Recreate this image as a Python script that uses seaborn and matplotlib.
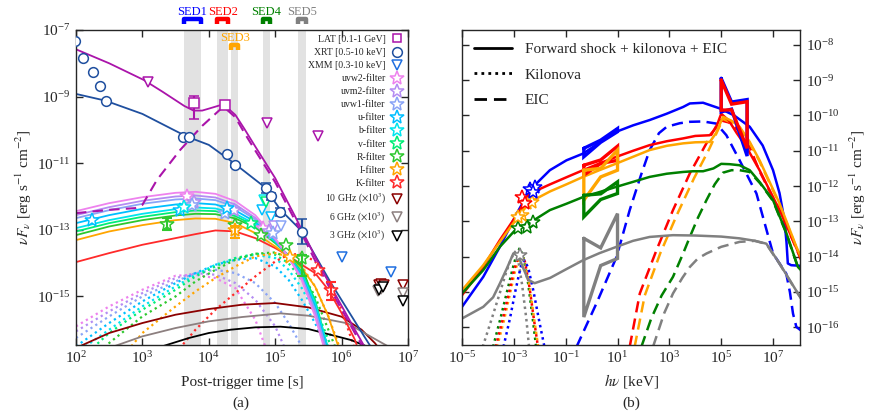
import numpy as np
import matplotlib
matplotlib.use('Agg')
import matplotlib.pyplot as plt
import matplotlib.transforms as mtransforms
from matplotlib.lines import Line2D
from matplotlib.ticker import FixedLocator, NullLocator, LogFormatterMathtext
import seaborn as sns

# ---------------- data (log10 values) ----------------
# panel (a): light curves, x = log10(t / s), y = log10(nuFnu)
SED_BANDS = [(3.63, 3.88), (4.13, 4.29), (4.34, 4.44), (4.81, 4.92), (5.35, 5.46)]
SED_NAMES = ['SED1', 'SED2', 'SED3', 'SED4', 'SED5']
SED_COLORS = ['#0000ff', '#ff0000', '#ffa500', '#008000', '#808080']

xrt_t = [2.0, 2.44, 3.0, 3.5, 3.67, 4.0, 4.38, 4.83, 5.08, 5.38, 5.84, 6.34, 6.5]
xrt_f = [-8.92, -9.12, -9.52, -10.03, -10.2, -10.45, -11.0, -11.7, -12.4, -13.0, -14.6, -16.2, -16.7]
lat_t = [2.0, 2.5, 3.02, 3.3, 3.63, 3.77, 3.9, 4.02, 4.22, 4.4, 4.53, 4.7, 5.0, 5.3, 5.6, 5.84, 6.2, 6.4]
lat_f = [-7.58, -8.0, -8.5, -8.85, -9.28, -9.42, -9.42, -9.35, -9.23, -9.55, -9.95, -10.5, -11.45,
         -12.6, -13.8, -14.71, -16.0, -16.7]
lat_eic_t = [2.0, 2.5, 2.89, 3.0, 3.22, 3.57, 3.9, 4.22, 4.4, 4.53, 4.7, 5.0, 5.3, 5.6, 5.84, 6.2, 6.4]
lat_eic_f = [-12.5, -12.4, -12.35, -12.25, -11.5, -10.6, -9.88, -9.3, -9.62, -10.07, -10.62, -11.57,
             -12.72, -13.92, -14.82, -16.1, -16.8]

T_OPT = [2.0, 2.5, 3.0, 3.5, 3.8, 4.1, 4.4, 4.7, 5.0, 5.2, 5.4, 5.6, 5.8, 6.0, 6.2, 6.4]
opt_uvw2 = [-12.44, -12.20, -12.02, -11.89, -11.86, -11.92, -12.14, -12.56, -13.25, -13.82, -14.51, -15.6, -17.0]
opt_uvm2 = [-12.56, -12.32, -12.13, -12.00, -11.97, -12.03, -12.24, -12.64, -13.28, -13.82, -14.47, -15.5, -16.9]
opt_uvw1 = [-12.65, -12.41, -12.22, -12.09, -12.06, -12.11, -12.31, -12.69, -13.30, -13.82, -14.43, -15.4, -16.8]
opt_u = [-12.80, -12.56, -12.37, -12.24, -12.20, -12.24, -12.42, -12.76, -13.32, -13.80, -14.38, -15.3, -16.7]
opt_b = [-12.95, -12.71, -12.52, -12.38, -12.33, -12.36, -12.52, -12.83, -13.35, -13.80, -14.33, -15.2, -16.6]
opt_v = [-13.05, -12.80, -12.61, -12.47, -12.42, -12.44, -12.59, -12.88, -13.37, -13.78, -14.25, -15.1, -16.6]
opt_R = [-13.16, -12.90, -12.71, -12.57, -12.52, -12.53, -12.66, -12.93, -13.40, -13.76, -14.10, -15.2, -16.7]
opt_I = [-13.31, -13.05, -12.86, -12.71, -12.66, -12.67, -12.80, -13.10, -13.50, -13.80, -14.15, -14.70,
         -15.6, -16.8]
opt_K = [-13.97, -13.70, -13.45, -13.25, -13.13, -13.02, -13.05, -13.25, -13.55, -13.78, -14.05, -14.30,
         -14.80, -15.50, -16.30, -17.5]

kn_uvw2_t = [2.0, 2.5, 3.0, 3.5, 3.8, 4.1, 4.4, 4.7, 4.85, 5.0]
kn_uvw2 = [-15.9, -15.3, -14.8, -14.38, -14.35, -14.45, -14.75, -15.7, -16.5, -17.4]
kn_uvm2_t = [2.0, 2.5, 3.0, 3.5, 3.8, 4.1, 4.4, 4.7, 5.0, 5.2]
kn_uvm2 = [-16.05, -15.45, -14.9, -14.45, -14.3, -14.35, -14.6, -15.1, -15.9, -16.8]
kn_uvw1_t = [2.0, 2.5, 3.0, 3.5, 3.8, 4.1, 4.4, 4.7, 5.0, 5.2, 5.4, 5.6]
kn_uvw1 = [-16.25, -15.6, -15.0, -14.55, -14.3, -14.2, -14.3, -14.6, -15.2, -15.8, -16.5, -17.3]
kn_u_t = [2.0, 2.5, 3.0, 3.5, 3.8, 4.1, 4.4, 4.7, 5.0, 5.2, 5.4, 5.6, 5.8]
kn_u = [-16.5, -15.8, -15.15, -14.6, -14.3, -14.05, -13.9, -13.85, -14.1, -14.5, -15.1, -15.8, -16.6]
kn_b = [-16.7, -16.0, -15.3, -14.7, -14.35, -14.05, -13.85, -13.75, -13.85, -14.2, -14.75, -15.5, -16.5]
kn_v_t = [2.0, 2.5, 3.0, 3.5, 3.8, 4.1, 4.4, 4.7, 5.0, 5.2, 5.4, 5.6, 5.8, 6.0]
kn_v = [-17.0, -16.1, -15.4, -14.8, -14.4, -14.1, -13.85, -13.72, -13.75, -14.0, -14.5, -15.3, -16.3, -17.3]
kn_R = [-17.4, -16.4, -15.6, -15.0, -14.55, -14.2, -13.9, -13.72, -13.68, -13.85, -14.3, -15.0, -16.0, -17.0]
kn_I_t = [2.5, 3.0, 3.5, 3.8, 4.1, 4.4, 4.7, 5.0, 5.2, 5.4, 5.6, 5.8, 6.0]
kn_I = [-17.3, -16.1, -15.3, -14.85, -14.45, -14.1, -13.8, -13.7, -13.8, -14.1, -14.7, -15.6, -16.7]
kn_K_t = [3.5, 3.8, 4.1, 4.4, 4.7, 5.0, 5.2, 5.4, 5.6, 5.8, 6.0, 6.2]
kn_K = [-16.7, -16.0, -15.4, -14.9, -14.4, -13.95, -13.75, -13.72, -13.95, -14.5, -15.4, -16.6]

r10_t = [2.0, 2.5, 3.0, 3.5, 4.0, 4.5, 5.0, 5.5, 6.0, 6.3, 6.5, 6.7]
r10_f = [-16.55, -16.1, -15.8, -15.55, -15.38, -15.25, -15.2, -15.33, -15.61, -16.0, -16.4, -16.9]
r6_t = [2.5, 3.0, 3.5, 4.0, 4.5, 5.08, 5.5, 6.09, 6.44, 6.7, 7.0]
r6_f = [-16.55, -16.2, -15.95, -15.75, -15.62, -15.51, -15.58, -15.81, -16.21, -16.5, -16.9]
r3_t = [3.3, 3.7, 4.0, 4.33, 4.7, 5.08, 5.5, 6.14, 6.5, 6.8]
r3_f = [-16.5, -16.25, -16.1, -16.0, -15.93, -15.91, -15.98, -16.31, -16.6, -16.9]

xrt_pt_t = [1.99, 2.10, 2.25, 2.36, 2.45, 3.61, 3.70, 4.28, 4.40, 4.855, 4.94, 5.07, 5.41]
xrt_pt_f = [-7.32, -7.83, -8.27, -8.67, -9.12, -10.22, -10.20, -10.73, -11.05, -11.75, -12.0, -12.46, -13.06]
xrt_pt_e = [0, 0, 0, 0, 0, 0, 0, 0, 0.05, 0.15, 0.1, 0.12, 0.38]
lat_pt_t = [3.77, 4.24]
lat_pt_f = [-9.18, -9.25]
lat_pt_lo = [0.5, 0.07]
lat_pt_hi = [0.2, 0.05]
lat_ul_t = [3.08, 4.88, 5.64]
lat_ul_f = [-8.57, -9.78, -10.18]
xmm_ul_t = [6.01, 6.74]
xmm_ul_f = [-13.81, -14.26]

star_t = {'uvw2': [3.67, 4.81], 'uvm2': [3.77, 4.38, 4.90], 'uvw1': [3.75, 4.25, 4.96],
          'u': [2.237, 3.57, 4.28], 'b': [3.62], 'v': [4.63], 'R': [3.37, 4.40, 4.78, 5.16, 5.41],
          'I': [4.40, 5.23], 'K': [5.64, 5.84]}
star_f = {'uvw2': [-12.0, -12.95], 'uvm2': [-12.16, -12.41, -13.04], 'uvw1': [-12.26, -12.5, -13.1],
          'u': [-12.71, -12.41, -12.35], 'b': [-12.32], 'v': [-12.8], 'R': [-12.83, -12.86, -13.16, -13.46, -13.86],
          'I': [-13.0, -13.81], 'K': [-14.2, -14.8]}
star_err = [('R', 3.37, -12.83, 0.17, 0.18), ('I', 4.40, -13.0, 0.26, 0.1),
            ('R', 5.41, -13.86, 0.54, 0.1), ('K', 5.84, -14.8, 0.3, 0.24)]
opt_ul = [('u', 4.80, -12.41), ('u', 4.93, -12.62), ('b', 4.83, -12.1), ('v', 4.86, -12.18),
          ('uvm2', 4.98, -12.9), ('uvw1', 5.08, -12.9)]
radio_ul_t = {'10': [6.56, 6.60, 6.64, 6.92], '6': [6.55, 6.59, 6.92], '3': [6.57, 6.62, 6.92]}
radio_ul_f = {'10': [-14.65, -14.62, -14.65, -14.65], '6': [-14.85, -14.78, -14.9], '3': [-14.8, -14.72, -15.15]}

# panel (b): SEDs, x = log10(h nu / keV), y = log10(nuFnu)
s1_e = [-5.0, -4.18, -3.54, -2.89, -2.38, -1.61, -0.97, -0.33, 0.3, 0.96, 1.6, 2.24, 2.9, 3.53, 3.79, 4.3,
        4.94, 5.5, 6.1, 6.6, 7.0, 7.25, 7.44, 7.52, 7.57, 7.7, 8.1]
s1_f = [-15.42, -14.57, -13.72, -12.78, -12.11, -11.55, -11.27, -11.08, -10.77, -10.46, -10.28, -10.13, -9.95,
        -9.76, -9.66, -9.64, -9.8, -10.0, -10.32, -10.85, -11.55, -12.2, -12.97, -13.6, -14.19, -14.24, -14.26]
s2_e = [-5.0, -4.18, -3.54, -2.89, -2.38, -1.6, -0.97, -0.33, 0.3, 0.96, 1.6, 2.24, 2.9, 3.53, 4.0, 4.56,
        4.8, 5.0, 5.3, 5.6, 5.97, 6.48, 7.25, 7.77, 8.1]
s2_f = [-15.09, -14.29, -13.53, -12.82, -12.21, -11.95, -11.75, -11.55, -11.36, -11.17, -11.0, -10.84, -10.73,
        -10.65, -10.58, -10.56, -10.35, -9.95, -10.15, -10.5, -10.89, -11.55, -12.68, -13.53, -14.1]
s3_e = [-5.0, -4.18, -3.54, -2.89, -2.38, -1.6, -0.97, -0.33, 0.3, 0.96, 1.6, 2.24, 2.9, 3.53, 4.0, 4.56,
        4.8, 5.07, 5.4, 5.71, 6.1, 6.48, 7.25, 7.9, 8.1]
s3_f = [-14.95, -14.24, -13.58, -12.92, -12.45, -12.15, -11.95, -11.74, -11.55, -11.36, -11.17, -10.98, -10.86,
        -10.79, -10.76, -10.75, -10.5, -10.04, -10.15, -10.32, -10.75, -11.27, -12.49, -13.72, -14.05]
s4_e = [-5.0, -4.18, -3.54, -2.89, -2.3, -1.61, -0.97, -0.33, 0.3, 0.96, 1.6, 2.24, 2.9, 3.53, 3.91, 4.3,
        4.7, 5.0, 5.33, 5.71, 6.1, 6.5, 7.0, 7.5, 7.96, 8.1]
s4_f = [-15.04, -14.38, -13.72, -13.2, -13.0, -12.68, -12.5, -12.31, -12.17, -12.02, -11.88, -11.74, -11.65,
        -11.60, -11.58, -11.58, -11.5, -11.37, -11.38, -11.41, -11.55, -11.9, -12.40, -13.3, -14.29, -14.4]
s5_e = [-5.0, -4.18, -3.8, -3.54, -3.25, -3.02, -2.85, -2.65, -2.45, -2.2, -1.6, -0.97, -0.33, 0.3, 0.96,
        1.6, 2.24, 3.14, 4.0, 5.0, 5.71, 6.3, 6.74, 7.25, 7.96, 8.1]
s5_f = [-15.75, -15.42, -15.15, -14.76, -14.3, -13.91, -13.95, -14.3, -14.65, -14.75, -14.6, -14.35, -14.10,
        -13.9, -13.72, -13.55, -13.44, -13.39, -13.40, -13.43, -13.48, -13.55, -13.63, -14.19, -15.04, -15.2]

eic1_e = [-0.58, 0.2, 0.96, 1.47, 1.9, 2.24, 2.6, 2.9, 3.4, 3.79, 4.3, 4.81, 5.2, 5.71, 6.36, 7.0, 7.51,
          7.65, 7.77, 7.9, 8.1]
eic1_f = [-16.55, -15.3, -14.01, -12.68, -11.7, -10.98, -10.5, -10.32, -10.22, -10.18, -10.17, -10.23, -10.56,
          -11.27, -12.21, -13.91, -14.48, -15.0, -15.61, -15.99, -16.1]
eic2_e = [1.47, 1.86, 2.5, 3.14, 3.79, 4.43, 4.94, 5.3, 5.71, 6.1, 6.48, 7.25, 7.77, 8.1]
eic2_f = [-16.55, -15.04, -13.82, -12.68, -11.64, -10.79, -10.13, -10.2, -10.45, -10.9, -11.58, -12.7,
          -13.55, -14.12]
eic3_e = [1.66, 2.05, 2.65, 3.3, 3.95, 4.55, 5.07, 5.4, 5.71, 6.1, 6.48, 7.25, 7.9, 8.1]
eic3_f = [-16.55, -15.1, -13.9, -12.8, -11.78, -10.93, -10.1, -10.2, -10.35, -10.78, -11.3, -12.52,
          -13.75, -14.07]
eic4_e = [1.92, 2.3, 2.7, 3.14, 3.53, 3.79, 4.1, 4.43, 4.75, 5.07, 5.4, 5.71, 6.1, 6.5, 7.0, 7.5, 7.96, 8.1]
eic4_f = [-16.55, -15.75, -15.1, -14.57, -13.91, -13.44, -12.9, -12.40, -11.95, -11.62, -11.55, -11.55,
          -11.6, -11.92, -12.42, -13.32, -14.3, -14.42]
eic5_e = [2.37, 2.8, 3.14, 3.5, 3.79, 4.1, 4.43, 5.0, 5.71, 6.3, 6.74, 7.25, 7.96, 8.1]
eic5_f = [-16.55, -15.6, -15.04, -14.6, -14.29, -14.05, -13.91, -13.72, -13.58, -13.55, -13.64, -14.2,
          -15.05, -15.2]

knb1_e = [-3.4, -3.15, -2.95, -2.8, -2.7, -2.6, -2.45, -2.25, -2.0, -1.75]
knb1_f = [-16.55, -15.75, -15.0, -14.5, -14.2, -14.1, -14.3, -14.95, -15.9, -16.8]
knb2_e = [-3.7, -3.42, -3.18, -3.0, -2.85, -2.72, -2.57, -2.4, -2.22, -2.02]
knb2_f = [-16.55, -15.75, -15.0, -14.4, -14.05, -13.88, -14.15, -14.85, -15.8, -16.8]
knb3_e = [-3.65, -3.38, -3.15, -2.97, -2.83, -2.70, -2.55, -2.38, -2.2, -2.0]
knb3_f = [-16.55, -15.8, -15.05, -14.45, -14.1, -13.93, -14.2, -14.9, -15.85, -16.85]
knb4_e = [-3.8, -3.5, -3.25, -3.05, -2.9, -2.77, -2.62, -2.45, -2.28, -2.1]
knb4_f = [-16.55, -15.7, -14.95, -14.35, -13.95, -13.75, -14.05, -14.75, -15.7, -16.8]
knb5_e = [-4.2, -3.85, -3.55, -3.3, -3.1, -2.96, -2.82, -2.68, -2.52, -2.38]
knb5_f = [-16.55, -15.75, -15.05, -14.45, -14.05, -13.86, -14.15, -14.8, -15.75, -16.8]

# bowties: colour, E_left, E_waist, E_right,
#          (top_left, top_waist, top_right), (bottom_left, bottom_waist, bottom_right)
BOWTIES = [('#0000ff', -0.3, 0.35, 1.0, (-10.93, -10.70, -10.37), (-11.17, -10.76, -10.46)),
           ('#ff0000', -0.3, 0.35, 1.0, (-11.41, -11.26, -10.87), (-11.69, -11.36, -11.27)),
           ('#ffa500', -0.3, 0.35, 1.0, (-11.55, -11.50, -10.98), (-12.40, -11.74, -11.55)),
           ('#008000', -0.3, 0.35, 1.0, (-12.26, -12.22, -11.88), (-12.87, -12.38, -12.21)),
           ('#808080', -0.3, 0.35, 1.0, (-13.48, -13.75, -12.78), (-15.71, -14.25, -14.05)),
           ('#0000ff', 5.0, 5.4, 6.0, (-8.95, -9.62, -9.55), (-9.9, -9.82, -11.15)),
           ('#ff0000', 5.0, 5.4, 6.0, (-9.0, -9.68, -9.61), (-9.85, -9.84, -10.93))]

sed_star_e = {'#0000ff': [-2.38, -2.19, -2.28], '#ff0000': [-2.70, -2.57],
              '#ffa500': [-2.51, -2.31, -2.70, -2.83], '#008000': [-2.83, -2.51, -2.25], '#808080': [-2.76]}
sed_star_f = {'#0000ff': [-12.07, -12.02, -12.17], '#ff0000': [-12.31, -12.49],
              '#ffa500': [-12.49, -12.45, -12.82, -12.87], '#008000': [-13.2, -13.16, -13.01], '#808080': [-13.96]}

# ---------------- style ----------------
sns.set_theme(style='ticks')
plt.rcParams['font.family'] = ['Liberation Serif', 'DejaVu Serif']
plt.rcParams['mathtext.fontset'] = 'stix'
plt.rcParams['axes.linewidth'] = 1.0

FILTERS = ['uvw2', 'uvm2', 'uvw1', 'u', 'b', 'v', 'R', 'I', 'K']
FCOL = {'uvw2': '#ee82ee', 'uvm2': '#b48cf2', 'uvw1': '#8aa4f6', 'u': '#00bfff', 'b': '#00e5ee',
        'v': '#00ee76', 'R': '#2ec82e', 'I': '#ffa500', 'K': '#ff2a2a'}
OPT = {'uvw2': opt_uvw2, 'uvm2': opt_uvm2, 'uvw1': opt_uvw1, 'u': opt_u, 'b': opt_b,
       'v': opt_v, 'R': opt_R, 'I': opt_I, 'K': opt_K}
KN = {'uvw2': (kn_uvw2_t, kn_uvw2), 'uvm2': (kn_uvm2_t, kn_uvm2), 'uvw1': (kn_uvw1_t, kn_uvw1),
      'u': (kn_u_t, kn_u), 'b': (kn_u_t, kn_b), 'v': (kn_v_t, kn_v), 'R': (kn_v_t, kn_R),
      'I': (kn_I_t, kn_I), 'K': (kn_K_t, kn_K)}
XRT_C = '#1f4f9f'
LAT_C = '#aa14aa'
XMM_C = '#1f6fe0'
RAD_C = {'10': '#8b0000', '6': '#8c7f7f', '3': '#000000'}


def P(a):
    return 10.0 ** np.asarray(a, dtype=float)


def curve(ax, x, y, color, ls='-', lw=1.3, z=2):
    sns.lineplot(x=P(x), y=P(y), ax=ax, color=color, linestyle=ls, lw=lw,
                 sort=False, estimator=None, legend=False, zorder=z)


fig = plt.figure(figsize=(8.74, 4.17), dpi=100)
W, H = 874.0, 417.0
ax1 = fig.add_axes([76 / W, 1 - 345 / H, 332 / W, 315 / H])
ax2 = fig.add_axes([462 / W, 1 - 345 / H, 338 / W, 315 / H])

# ---------------- panel (a) ----------------
ax1.set_xscale('log')
ax1.set_yscale('log')
for (a, b) in SED_BANDS:
    ax1.axvspan(10 ** a, 10 ** b, color='#e2e2e2', lw=0, zorder=0)

for f in FILTERS:
    t, v = KN[f]
    curve(ax1, t, v, FCOL[f], ls=(0, (1, 1.6)), lw=1.6, z=1.5)
curve(ax1, r10_t, r10_f, RAD_C['10'], lw=1.3)
curve(ax1, r6_t, r6_f, RAD_C['6'], lw=1.3)
curve(ax1, r3_t, r3_f, RAD_C['3'], lw=1.3)
for f in FILTERS[::-1]:
    v = OPT[f]
    curve(ax1, T_OPT[:len(v)], v, FCOL[f], lw=1.3)
curve(ax1, xrt_t, xrt_f, XRT_C, lw=1.3)
curve(ax1, lat_eic_t, lat_eic_f, LAT_C, ls=(0, (5, 3)), lw=1.5)
curve(ax1, lat_t, lat_f, LAT_C, lw=1.3)

mk = dict(ls='none', mfc='white', mew=1.1, zorder=5)
ax1.plot(P(xmm_ul_t), P(xmm_ul_f), marker='v', ms=7, mec=XMM_C, **mk)
for f, t, v in opt_ul:
    ax1.plot(P(t), P(v), marker='v', ms=7, mec=FCOL[f], **mk)
for k in ['10', '6', '3']:
    ax1.plot(P(radio_ul_t[k]), P(radio_ul_f[k]), marker='v', ms=7, mec=RAD_C[k], **mk)
ax1.plot(P(lat_ul_t), P(lat_ul_f), marker='v', ms=7, mec=LAT_C, **mk)

xe = np.array(xrt_pt_e)
yf = P(xrt_pt_f)
ax1.errorbar(P(xrt_pt_t), yf, yerr=[yf - P(np.array(xrt_pt_f) - xe), P(np.array(xrt_pt_f) + xe) - yf],
             fmt='o', ms=7, mfc='white', mec=XRT_C, mew=1.1, ecolor=XRT_C, elinewidth=1.5, capsize=3.5,
             capthick=1.5, zorder=6)
lf = P(lat_pt_f)
ax1.errorbar(P(lat_pt_t), lf, yerr=[lf - P(np.array(lat_pt_f) - np.array(lat_pt_lo)),
                                    P(np.array(lat_pt_f) + np.array(lat_pt_hi)) - lf],
             fmt='s', ms=7, mfc='white', mec=LAT_C, mew=1.1, ecolor=LAT_C, elinewidth=1.5, capsize=3.5,
             capthick=1.5, zorder=6)
for f, t, v, lo, hi in star_err:
    ax1.errorbar([10 ** t], [10 ** v], yerr=[[10 ** v - 10 ** (v - lo)], [10 ** (v + hi) - 10 ** v]],
                 fmt='none', ecolor=FCOL[f], elinewidth=1.5, capsize=3.5, capthick=1.5, zorder=6)
for f in FILTERS:
    ax1.plot(P(star_t[f]), P(star_f[f]), marker='*', ms=10, mec=FCOL[f], **mk)

ax1.set_xlim(1e2, 1e7)
ax1.set_ylim(10 ** -16.46, 1e-7)
ax1.xaxis.set_major_locator(FixedLocator([1e2, 1e3, 1e4, 1e5, 1e6, 1e7]))
ax1.yaxis.set_major_locator(FixedLocator([1e-15, 1e-13, 1e-11, 1e-9, 1e-7]))
ax1.xaxis.set_minor_locator(NullLocator())
ax1.yaxis.set_minor_locator(NullLocator())
ax1.xaxis.set_major_formatter(LogFormatterMathtext())
ax1.yaxis.set_major_formatter(LogFormatterMathtext())
ax1.tick_params(direction='in', top=True, right=True, length=5, width=1, labelsize=11, pad=4)
ax1.set_xlabel('Post-trigger time [s]', fontsize=11, labelpad=7)
ax1.set_ylabel(r'$\nu F_\nu$ [erg s$^{-1}$ cm$^{-2}$]', fontsize=11, labelpad=2)

trans = mtransforms.blended_transform_factory(ax1.transData, ax1.transAxes)
for i, ((a, b), name, c) in enumerate(zip(SED_BANDS, SED_NAMES, SED_COLORS)):
    if name == 'SED3':
        yt, yb, ytxt = 0.953, 0.937, 0.975
    else:
        yt, yb, ytxt = 1.036, 1.018, 1.058
    ax1.plot([10 ** a, 10 ** a, 10 ** b, 10 ** b], [yb, yt, yt, yb], transform=trans, color=c, lw=3.2,
             clip_on=False, solid_joinstyle='round', solid_capstyle='butt', zorder=7)
    ax1.text(10 ** ((a + b) / 2), ytxt, name, transform=trans, color=c, fontsize=9, ha='center',
             va='center', clip_on=False)

h = [Line2D([], [], marker='s', ms=6, mec=LAT_C, mfc='white', mew=1.1, ls='none'),
     Line2D([], [], marker='o', ms=7, mec=XRT_C, mfc='white', mew=1.1, ls='none'),
     Line2D([], [], marker='v', ms=7, mec=XMM_C, mfc='white', mew=1.1, ls='none')]
labels = ['LAT [0.1-1 GeV]', 'XRT [0.5-10 keV]', 'XMM [0.3-10 keV]']
for f in FILTERS:
    h.append(Line2D([], [], marker='*', ms=10, mec=FCOL[f], mfc='white', mew=1.1, ls='none'))
    labels.append(f + '-filter')
for k, lab in [('10', '10 GHz'), ('6', '6 GHz'), ('3', '3 GHz')]:
    h.append(Line2D([], [], marker='v', ms=7, mec=RAD_C[k], mfc='white', mew=1.1, ls='none'))
    labels.append(lab + r' ($\times10^3$)')
ax1.legend(h, labels, loc='upper right', bbox_to_anchor=(1.0, 1.0), frameon=False, fontsize=7,
           markerfirst=False, handlelength=1.2, handletextpad=0.6, labelspacing=0.42, borderaxespad=0.3,
           borderpad=0.2)

# ---------------- panel (b) ----------------
ax2.set_xscale('log')
ax2.set_yscale('log')
SOL = [(s1_e, s1_f, '#0000ff'), (s2_e, s2_f, '#ff0000'), (s3_e, s3_f, '#ffa500'),
       (s4_e, s4_f, '#008000'), (s5_e, s5_f, '#808080')]
EIC = [(eic1_e, eic1_f, '#0000ff'), (eic2_e, eic2_f, '#ff0000'), (eic3_e, eic3_f, '#ffa500'),
       (eic4_e, eic4_f, '#008000'), (eic5_e, eic5_f, '#808080')]
KNB = [(knb5_e, knb5_f, '#808080'), (knb4_e, knb4_f, '#008000'), (knb3_e, knb3_f, '#ffa500'),
       (knb2_e, knb2_f, '#ff0000'), (knb1_e, knb1_f, '#0000ff')]
for e, f, c in KNB:
    curve(ax2, e, f, c, ls=(0, (1, 1.5)), lw=1.8)
for e, f, c in EIC:
    curve(ax2, e, f, c, ls=(0, (4.5, 2.5)), lw=1.8)
for e, f, c in SOL:
    curve(ax2, e, f, c, lw=1.8)
for c, e1, em, e2, top, bot in BOWTIES:
    ax2.plot(P([e1, em, e2, e2, em, e1, e1]),
             P([top[0], top[1], top[2], bot[2], bot[1], bot[0], top[0]]),
             color=c, lw=2.4, zorder=4, solid_joinstyle='miter')
for c in ['#808080', '#008000', '#ffa500', '#ff0000', '#0000ff']:
    ax2.plot(P(sed_star_e[c]), P(sed_star_f[c]), marker='*', ms=10, mec=c, **mk)

ax2.set_xlim(1e-5, 10 ** 8.04)
ax2.set_ylim(10 ** -16.5, 10 ** -7.58)
ax2.xaxis.set_major_locator(FixedLocator([1e-5, 1e-3, 1e-1, 1e1, 1e3, 1e5, 1e7]))
ax2.yaxis.set_major_locator(FixedLocator([10.0 ** k for k in range(-16, -7)]))
ax2.xaxis.set_minor_locator(NullLocator())
ax2.yaxis.set_minor_locator(NullLocator())
ax2.xaxis.set_major_formatter(LogFormatterMathtext())
ax2.yaxis.set_major_formatter(LogFormatterMathtext())
ax2.tick_params(direction='in', top=True, right=True, left=True, labelleft=False, labelright=True,
                length=5, width=1, labelsize=11, pad=4)
ax2.yaxis.set_label_position('right')
ax2.set_xlabel(r'$h\nu$ [keV]', fontsize=11, labelpad=4)
ax2.set_ylabel(r'$\nu F_\nu$ [erg s$^{-1}$ cm$^{-2}$]', fontsize=11, labelpad=6)
lh = [Line2D([], [], color='black', lw=2, ls='-'),
      Line2D([], [], color='black', lw=2, ls=(0, (1, 1.5))),
      Line2D([], [], color='black', lw=2, ls=(0, (4.5, 2.5)))]
ax2.legend(lh, ['Forward shock + kilonova + EIC', 'Kilonova', 'EIC'], loc='upper left', frameon=False,
           fontsize=11, handlelength=2.5, handletextpad=0.8, labelspacing=0.78, borderaxespad=0.4)

fig.text(241 / W, 1 - 403 / H, '(a)', ha='center', va='center', fontsize=11)
fig.text(631 / W, 1 - 403 / H, '(b)', ha='center', va='center', fontsize=11)

fig.savefig('out.png', dpi=100)
